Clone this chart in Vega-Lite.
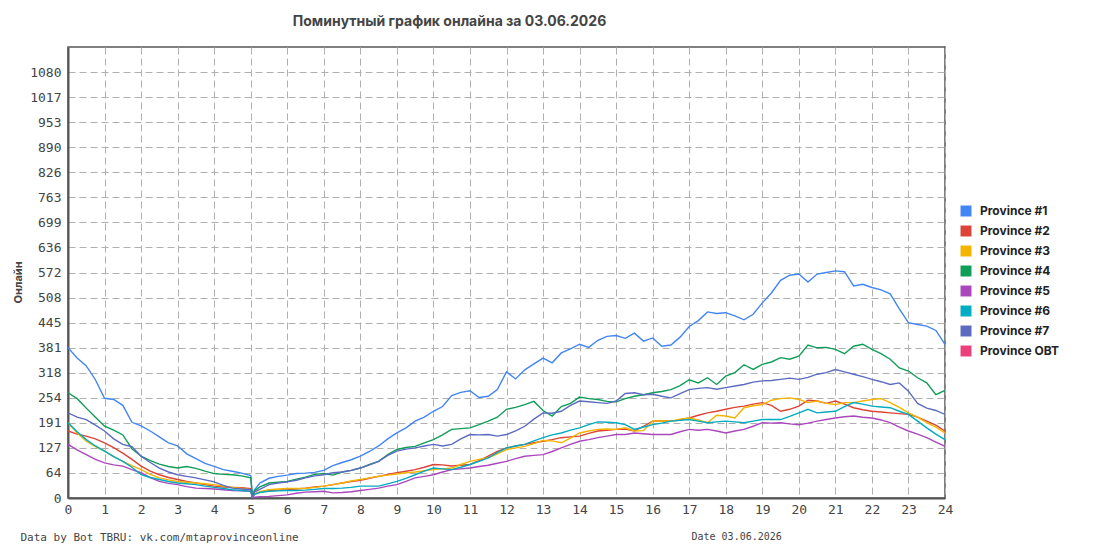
{
  "$schema": "https://vega.github.io/schema/vega-lite/v6.json",
  "width": 877,
  "height": 451,
  "autosize": {"type": "none"},
  "padding": {"left": 68, "top": 47, "right": 150, "bottom": 52},
  "background": "white",
  "title": {
    "text": "Поминутный график онлайна за 03.06.2026",
    "font": "Inter",
    "fontSize": 14,
    "fontWeight": "bold",
    "color": "#444",
    "anchor": "middle",
    "dx": -57,
    "offset": 18
  },
  "config": {
    "view": {"stroke": "#555", "strokeWidth": 1.5}
  },
  "layer": [
    {
      "data": {"values": [
{"t":0,"p":"Province #1","v":381},{"t":0.25,"p":"Province #1","v":355},{"t":0.5,"p":"Province #1","v":335},{"t":0.75,"p":"Province #1","v":300},{"t":1,"p":"Province #1","v":253},{"t":1.25,"p":"Province #1","v":250},{"t":1.5,"p":"Province #1","v":235},{"t":1.75,"p":"Province #1","v":192},{"t":2,"p":"Province #1","v":183},{"t":2.25,"p":"Province #1","v":170},{"t":2.5,"p":"Province #1","v":155},{"t":2.75,"p":"Province #1","v":140},{"t":3,"p":"Province #1","v":132},{"t":3.25,"p":"Province #1","v":112},{"t":3.5,"p":"Province #1","v":100},{"t":3.75,"p":"Province #1","v":88},{"t":4,"p":"Province #1","v":80},{"t":4.25,"p":"Province #1","v":72},{"t":4.5,"p":"Province #1","v":68},{"t":4.75,"p":"Province #1","v":63},{"t":5,"p":"Province #1","v":57},{"t":5.05,"p":"Province #1","v":3},{"t":5.1,"p":"Province #1","v":20},{"t":5.25,"p":"Province #1","v":38},{"t":5.5,"p":"Province #1","v":50},{"t":5.75,"p":"Province #1","v":55},{"t":6,"p":"Province #1","v":58},{"t":6.25,"p":"Province #1","v":62},{"t":6.5,"p":"Province #1","v":63},{"t":6.75,"p":"Province #1","v":65},{"t":7,"p":"Province #1","v":70},{"t":7.25,"p":"Province #1","v":82},{"t":7.5,"p":"Province #1","v":90},{"t":7.75,"p":"Province #1","v":97},{"t":8,"p":"Province #1","v":106},{"t":8.25,"p":"Province #1","v":118},{"t":8.5,"p":"Province #1","v":132},{"t":8.75,"p":"Province #1","v":150},{"t":9,"p":"Province #1","v":165},{"t":9.25,"p":"Province #1","v":178},{"t":9.5,"p":"Province #1","v":195},{"t":9.75,"p":"Province #1","v":205},{"t":10,"p":"Province #1","v":220},{"t":10.25,"p":"Province #1","v":232},{"t":10.5,"p":"Province #1","v":260},{"t":10.75,"p":"Province #1","v":268},{"t":11,"p":"Province #1","v":272},{"t":11.25,"p":"Province #1","v":255},{"t":11.5,"p":"Province #1","v":258},{"t":11.75,"p":"Province #1","v":275},{"t":12,"p":"Province #1","v":320},{"t":12.25,"p":"Province #1","v":302},{"t":12.5,"p":"Province #1","v":325},{"t":12.75,"p":"Province #1","v":340},{"t":13,"p":"Province #1","v":355},{"t":13.25,"p":"Province #1","v":343},{"t":13.5,"p":"Province #1","v":368},{"t":13.75,"p":"Province #1","v":378},{"t":14,"p":"Province #1","v":390},{"t":14.25,"p":"Province #1","v":382},{"t":14.5,"p":"Province #1","v":400},{"t":14.75,"p":"Province #1","v":410},{"t":15,"p":"Province #1","v":412},{"t":15.25,"p":"Province #1","v":405},{"t":15.5,"p":"Province #1","v":418},{"t":15.75,"p":"Province #1","v":398},{"t":16,"p":"Province #1","v":406},{"t":16.25,"p":"Province #1","v":385},{"t":16.5,"p":"Province #1","v":388},{"t":16.75,"p":"Province #1","v":408},{"t":17,"p":"Province #1","v":435},{"t":17.25,"p":"Province #1","v":450},{"t":17.5,"p":"Province #1","v":472},{"t":17.75,"p":"Province #1","v":468},{"t":18,"p":"Province #1","v":470},{"t":18.25,"p":"Province #1","v":462},{"t":18.5,"p":"Province #1","v":452},{"t":18.75,"p":"Province #1","v":466},{"t":19,"p":"Province #1","v":495},{"t":19.25,"p":"Province #1","v":520},{"t":19.5,"p":"Province #1","v":552},{"t":19.75,"p":"Province #1","v":565},{"t":20,"p":"Province #1","v":568},{"t":20.25,"p":"Province #1","v":548},{"t":20.5,"p":"Province #1","v":568},{"t":20.75,"p":"Province #1","v":572},{"t":21,"p":"Province #1","v":576},{"t":21.25,"p":"Province #1","v":574},{"t":21.5,"p":"Province #1","v":538},{"t":21.75,"p":"Province #1","v":542},{"t":22,"p":"Province #1","v":534},{"t":22.25,"p":"Province #1","v":528},{"t":22.5,"p":"Province #1","v":518},{"t":22.75,"p":"Province #1","v":480},{"t":23,"p":"Province #1","v":445},{"t":23.25,"p":"Province #1","v":440},{"t":23.5,"p":"Province #1","v":436},{"t":23.75,"p":"Province #1","v":425},{"t":24,"p":"Province #1","v":390},
{"t":0,"p":"Province #2","v":170},{"t":0.25,"p":"Province #2","v":162},{"t":0.5,"p":"Province #2","v":157},{"t":0.75,"p":"Province #2","v":150},{"t":1,"p":"Province #2","v":140},{"t":1.25,"p":"Province #2","v":128},{"t":1.5,"p":"Province #2","v":114},{"t":1.75,"p":"Province #2","v":98},{"t":2,"p":"Province #2","v":81},{"t":2.25,"p":"Province #2","v":68},{"t":2.5,"p":"Province #2","v":59},{"t":2.75,"p":"Province #2","v":52},{"t":3,"p":"Province #2","v":47},{"t":3.25,"p":"Province #2","v":42},{"t":3.5,"p":"Province #2","v":38},{"t":3.75,"p":"Province #2","v":34},{"t":4,"p":"Province #2","v":30},{"t":4.25,"p":"Province #2","v":28},{"t":4.5,"p":"Province #2","v":27},{"t":4.75,"p":"Province #2","v":26},{"t":5,"p":"Province #2","v":24},{"t":5.05,"p":"Province #2","v":1},{"t":5.1,"p":"Province #2","v":10},{"t":5.25,"p":"Province #2","v":15},{"t":5.5,"p":"Province #2","v":19},{"t":5.75,"p":"Province #2","v":20},{"t":6,"p":"Province #2","v":21},{"t":6.25,"p":"Province #2","v":23},{"t":6.5,"p":"Province #2","v":25},{"t":6.75,"p":"Province #2","v":28},{"t":7,"p":"Province #2","v":30},{"t":7.25,"p":"Province #2","v":34},{"t":7.5,"p":"Province #2","v":38},{"t":7.75,"p":"Province #2","v":42},{"t":8,"p":"Province #2","v":45},{"t":8.25,"p":"Province #2","v":50},{"t":8.5,"p":"Province #2","v":55},{"t":8.75,"p":"Province #2","v":60},{"t":9,"p":"Province #2","v":64},{"t":9.25,"p":"Province #2","v":68},{"t":9.5,"p":"Province #2","v":72},{"t":9.75,"p":"Province #2","v":78},{"t":10,"p":"Province #2","v":85},{"t":10.25,"p":"Province #2","v":84},{"t":10.5,"p":"Province #2","v":81},{"t":10.75,"p":"Province #2","v":83},{"t":11,"p":"Province #2","v":85},{"t":11.25,"p":"Province #2","v":95},{"t":11.5,"p":"Province #2","v":106},{"t":11.75,"p":"Province #2","v":118},{"t":12,"p":"Province #2","v":127},{"t":12.25,"p":"Province #2","v":132},{"t":12.5,"p":"Province #2","v":136},{"t":12.75,"p":"Province #2","v":140},{"t":13,"p":"Province #2","v":144},{"t":13.25,"p":"Province #2","v":148},{"t":13.5,"p":"Province #2","v":153},{"t":13.75,"p":"Province #2","v":155},{"t":14,"p":"Province #2","v":157},{"t":14.25,"p":"Province #2","v":164},{"t":14.5,"p":"Province #2","v":170},{"t":14.75,"p":"Province #2","v":172},{"t":15,"p":"Province #2","v":174},{"t":15.25,"p":"Province #2","v":175},{"t":15.5,"p":"Province #2","v":170},{"t":15.75,"p":"Province #2","v":182},{"t":16,"p":"Province #2","v":195},{"t":16.25,"p":"Province #2","v":196},{"t":16.5,"p":"Province #2","v":195},{"t":16.75,"p":"Province #2","v":198},{"t":17,"p":"Province #2","v":203},{"t":17.25,"p":"Province #2","v":210},{"t":17.5,"p":"Province #2","v":216},{"t":17.75,"p":"Province #2","v":220},{"t":18,"p":"Province #2","v":225},{"t":18.25,"p":"Province #2","v":230},{"t":18.5,"p":"Province #2","v":233},{"t":18.75,"p":"Province #2","v":238},{"t":19,"p":"Province #2","v":242},{"t":19.25,"p":"Province #2","v":235},{"t":19.5,"p":"Province #2","v":220},{"t":19.75,"p":"Province #2","v":225},{"t":20,"p":"Province #2","v":233},{"t":20.25,"p":"Province #2","v":248},{"t":20.5,"p":"Province #2","v":246},{"t":20.75,"p":"Province #2","v":240},{"t":21,"p":"Province #2","v":246},{"t":21.25,"p":"Province #2","v":238},{"t":21.5,"p":"Province #2","v":229},{"t":21.75,"p":"Province #2","v":224},{"t":22,"p":"Province #2","v":220},{"t":22.25,"p":"Province #2","v":218},{"t":22.5,"p":"Province #2","v":216},{"t":22.75,"p":"Province #2","v":214},{"t":23,"p":"Province #2","v":212},{"t":23.25,"p":"Province #2","v":205},{"t":23.5,"p":"Province #2","v":195},{"t":23.75,"p":"Province #2","v":185},{"t":24,"p":"Province #2","v":170},
{"t":0,"p":"Province #3","v":191},{"t":0.25,"p":"Province #3","v":165},{"t":0.5,"p":"Province #3","v":144},{"t":0.75,"p":"Province #3","v":130},{"t":1,"p":"Province #3","v":119},{"t":1.25,"p":"Province #3","v":105},{"t":1.5,"p":"Province #3","v":93},{"t":1.75,"p":"Province #3","v":82},{"t":2,"p":"Province #3","v":72},{"t":2.25,"p":"Province #3","v":60},{"t":2.5,"p":"Province #3","v":51},{"t":2.75,"p":"Province #3","v":46},{"t":3,"p":"Province #3","v":42},{"t":3.25,"p":"Province #3","v":40},{"t":3.5,"p":"Province #3","v":38},{"t":3.75,"p":"Province #3","v":36},{"t":4,"p":"Province #3","v":34},{"t":4.25,"p":"Province #3","v":30},{"t":4.5,"p":"Province #3","v":27},{"t":4.75,"p":"Province #3","v":24},{"t":5,"p":"Province #3","v":21},{"t":5.05,"p":"Province #3","v":1},{"t":5.1,"p":"Province #3","v":10},{"t":5.25,"p":"Province #3","v":16},{"t":5.5,"p":"Province #3","v":21},{"t":5.75,"p":"Province #3","v":23},{"t":6,"p":"Province #3","v":24},{"t":6.25,"p":"Province #3","v":24},{"t":6.5,"p":"Province #3","v":24},{"t":6.75,"p":"Province #3","v":27},{"t":7,"p":"Province #3","v":30},{"t":7.25,"p":"Province #3","v":34},{"t":7.5,"p":"Province #3","v":38},{"t":7.75,"p":"Province #3","v":43},{"t":8,"p":"Province #3","v":47},{"t":8.25,"p":"Province #3","v":51},{"t":8.5,"p":"Province #3","v":55},{"t":8.75,"p":"Province #3","v":58},{"t":9,"p":"Province #3","v":61},{"t":9.25,"p":"Province #3","v":64},{"t":9.5,"p":"Province #3","v":66},{"t":9.75,"p":"Province #3","v":69},{"t":10,"p":"Province #3","v":72},{"t":10.25,"p":"Province #3","v":74},{"t":10.5,"p":"Province #3","v":76},{"t":10.75,"p":"Province #3","v":85},{"t":11,"p":"Province #3","v":93},{"t":11.25,"p":"Province #3","v":98},{"t":11.5,"p":"Province #3","v":102},{"t":11.75,"p":"Province #3","v":112},{"t":12,"p":"Province #3","v":123},{"t":12.25,"p":"Province #3","v":127},{"t":12.5,"p":"Province #3","v":131},{"t":12.75,"p":"Province #3","v":138},{"t":13,"p":"Province #3","v":146},{"t":13.25,"p":"Province #3","v":145},{"t":13.5,"p":"Province #3","v":140},{"t":13.75,"p":"Province #3","v":152},{"t":14,"p":"Province #3","v":165},{"t":14.25,"p":"Province #3","v":170},{"t":14.5,"p":"Province #3","v":174},{"t":14.75,"p":"Province #3","v":175},{"t":15,"p":"Province #3","v":174},{"t":15.25,"p":"Province #3","v":178},{"t":15.5,"p":"Province #3","v":170},{"t":15.75,"p":"Province #3","v":171},{"t":16,"p":"Province #3","v":195},{"t":16.25,"p":"Province #3","v":196},{"t":16.5,"p":"Province #3","v":195},{"t":16.75,"p":"Province #3","v":200},{"t":17,"p":"Province #3","v":203},{"t":17.25,"p":"Province #3","v":198},{"t":17.5,"p":"Province #3","v":191},{"t":17.75,"p":"Province #3","v":210},{"t":18,"p":"Province #3","v":208},{"t":18.25,"p":"Province #3","v":203},{"t":18.5,"p":"Province #3","v":229},{"t":18.75,"p":"Province #3","v":234},{"t":19,"p":"Province #3","v":237},{"t":19.25,"p":"Province #3","v":248},{"t":19.5,"p":"Province #3","v":252},{"t":19.75,"p":"Province #3","v":254},{"t":20,"p":"Province #3","v":250},{"t":20.25,"p":"Province #3","v":242},{"t":20.5,"p":"Province #3","v":246},{"t":20.75,"p":"Province #3","v":240},{"t":21,"p":"Province #3","v":237},{"t":21.25,"p":"Province #3","v":242},{"t":21.5,"p":"Province #3","v":242},{"t":21.75,"p":"Province #3","v":246},{"t":22,"p":"Province #3","v":250},{"t":22.25,"p":"Province #3","v":252},{"t":22.5,"p":"Province #3","v":242},{"t":22.75,"p":"Province #3","v":230},{"t":23,"p":"Province #3","v":216},{"t":23.25,"p":"Province #3","v":205},{"t":23.5,"p":"Province #3","v":191},{"t":23.75,"p":"Province #3","v":180},{"t":24,"p":"Province #3","v":165},
{"t":0,"p":"Province #4","v":267},{"t":0.25,"p":"Province #4","v":252},{"t":0.5,"p":"Province #4","v":228},{"t":0.75,"p":"Province #4","v":205},{"t":1,"p":"Province #4","v":182},{"t":1.25,"p":"Province #4","v":172},{"t":1.5,"p":"Province #4","v":160},{"t":1.75,"p":"Province #4","v":125},{"t":2,"p":"Province #4","v":106},{"t":2.25,"p":"Province #4","v":95},{"t":2.5,"p":"Province #4","v":86},{"t":2.75,"p":"Province #4","v":80},{"t":3,"p":"Province #4","v":76},{"t":3.25,"p":"Province #4","v":80},{"t":3.5,"p":"Province #4","v":75},{"t":3.75,"p":"Province #4","v":68},{"t":4,"p":"Province #4","v":62},{"t":4.25,"p":"Province #4","v":60},{"t":4.5,"p":"Province #4","v":59},{"t":4.75,"p":"Province #4","v":56},{"t":5,"p":"Province #4","v":51},{"t":5.05,"p":"Province #4","v":2},{"t":5.1,"p":"Province #4","v":18},{"t":5.25,"p":"Province #4","v":28},{"t":5.5,"p":"Province #4","v":38},{"t":5.75,"p":"Province #4","v":40},{"t":6,"p":"Province #4","v":42},{"t":6.25,"p":"Province #4","v":48},{"t":6.5,"p":"Province #4","v":53},{"t":6.75,"p":"Province #4","v":60},{"t":7,"p":"Province #4","v":62},{"t":7.25,"p":"Province #4","v":58},{"t":7.5,"p":"Province #4","v":66},{"t":7.75,"p":"Province #4","v":70},{"t":8,"p":"Province #4","v":76},{"t":8.25,"p":"Province #4","v":85},{"t":8.5,"p":"Province #4","v":93},{"t":8.75,"p":"Province #4","v":110},{"t":9,"p":"Province #4","v":123},{"t":9.25,"p":"Province #4","v":128},{"t":9.5,"p":"Province #4","v":131},{"t":9.75,"p":"Province #4","v":140},{"t":10,"p":"Province #4","v":148},{"t":10.25,"p":"Province #4","v":160},{"t":10.5,"p":"Province #4","v":174},{"t":10.75,"p":"Province #4","v":176},{"t":11,"p":"Province #4","v":178},{"t":11.25,"p":"Province #4","v":186},{"t":11.5,"p":"Province #4","v":195},{"t":11.75,"p":"Province #4","v":205},{"t":12,"p":"Province #4","v":225},{"t":12.25,"p":"Province #4","v":230},{"t":12.5,"p":"Province #4","v":237},{"t":12.75,"p":"Province #4","v":245},{"t":13,"p":"Province #4","v":222},{"t":13.25,"p":"Province #4","v":208},{"t":13.5,"p":"Province #4","v":232},{"t":13.75,"p":"Province #4","v":240},{"t":14,"p":"Province #4","v":256},{"t":14.25,"p":"Province #4","v":252},{"t":14.5,"p":"Province #4","v":250},{"t":14.75,"p":"Province #4","v":245},{"t":15,"p":"Province #4","v":244},{"t":15.25,"p":"Province #4","v":252},{"t":15.5,"p":"Province #4","v":258},{"t":15.75,"p":"Province #4","v":262},{"t":16,"p":"Province #4","v":267},{"t":16.25,"p":"Province #4","v":270},{"t":16.5,"p":"Province #4","v":275},{"t":16.75,"p":"Province #4","v":285},{"t":17,"p":"Province #4","v":300},{"t":17.25,"p":"Province #4","v":292},{"t":17.5,"p":"Province #4","v":305},{"t":17.75,"p":"Province #4","v":288},{"t":18,"p":"Province #4","v":309},{"t":18.25,"p":"Province #4","v":318},{"t":18.5,"p":"Province #4","v":338},{"t":18.75,"p":"Province #4","v":326},{"t":19,"p":"Province #4","v":339},{"t":19.25,"p":"Province #4","v":345},{"t":19.5,"p":"Province #4","v":356},{"t":19.75,"p":"Province #4","v":352},{"t":20,"p":"Province #4","v":360},{"t":20.25,"p":"Province #4","v":388},{"t":20.5,"p":"Province #4","v":381},{"t":20.75,"p":"Province #4","v":382},{"t":21,"p":"Province #4","v":377},{"t":21.25,"p":"Province #4","v":366},{"t":21.5,"p":"Province #4","v":385},{"t":21.75,"p":"Province #4","v":390},{"t":22,"p":"Province #4","v":377},{"t":22.25,"p":"Province #4","v":366},{"t":22.5,"p":"Province #4","v":352},{"t":22.75,"p":"Province #4","v":330},{"t":23,"p":"Province #4","v":322},{"t":23.25,"p":"Province #4","v":305},{"t":23.5,"p":"Province #4","v":292},{"t":23.75,"p":"Province #4","v":262},{"t":24,"p":"Province #4","v":273},
{"t":0,"p":"Province #5","v":136},{"t":0.25,"p":"Province #5","v":122},{"t":0.5,"p":"Province #5","v":110},{"t":0.75,"p":"Province #5","v":98},{"t":1,"p":"Province #5","v":89},{"t":1.25,"p":"Province #5","v":84},{"t":1.5,"p":"Province #5","v":81},{"t":1.75,"p":"Province #5","v":72},{"t":2,"p":"Province #5","v":64},{"t":2.25,"p":"Province #5","v":52},{"t":2.5,"p":"Province #5","v":42},{"t":2.75,"p":"Province #5","v":37},{"t":3,"p":"Province #5","v":34},{"t":3.25,"p":"Province #5","v":29},{"t":3.5,"p":"Province #5","v":25},{"t":3.75,"p":"Province #5","v":24},{"t":4,"p":"Province #5","v":23},{"t":4.25,"p":"Province #5","v":21},{"t":4.5,"p":"Province #5","v":19},{"t":4.75,"p":"Province #5","v":18},{"t":5,"p":"Province #5","v":17},{"t":5.05,"p":"Province #5","v":1},{"t":5.1,"p":"Province #5","v":2},{"t":5.25,"p":"Province #5","v":3},{"t":5.5,"p":"Province #5","v":4},{"t":5.75,"p":"Province #5","v":6},{"t":6,"p":"Province #5","v":8},{"t":6.25,"p":"Province #5","v":12},{"t":6.5,"p":"Province #5","v":15},{"t":6.75,"p":"Province #5","v":16},{"t":7,"p":"Province #5","v":17},{"t":7.25,"p":"Province #5","v":13},{"t":7.5,"p":"Province #5","v":14},{"t":7.75,"p":"Province #5","v":16},{"t":8,"p":"Province #5","v":19},{"t":8.25,"p":"Province #5","v":22},{"t":8.5,"p":"Province #5","v":25},{"t":8.75,"p":"Province #5","v":30},{"t":9,"p":"Province #5","v":34},{"t":9.25,"p":"Province #5","v":42},{"t":9.5,"p":"Province #5","v":51},{"t":9.75,"p":"Province #5","v":55},{"t":10,"p":"Province #5","v":59},{"t":10.25,"p":"Province #5","v":66},{"t":10.5,"p":"Province #5","v":72},{"t":10.75,"p":"Province #5","v":74},{"t":11,"p":"Province #5","v":76},{"t":11.25,"p":"Province #5","v":80},{"t":11.5,"p":"Province #5","v":83},{"t":11.75,"p":"Province #5","v":88},{"t":12,"p":"Province #5","v":93},{"t":12.25,"p":"Province #5","v":100},{"t":12.5,"p":"Province #5","v":106},{"t":12.75,"p":"Province #5","v":108},{"t":13,"p":"Province #5","v":110},{"t":13.25,"p":"Province #5","v":118},{"t":13.5,"p":"Province #5","v":127},{"t":13.75,"p":"Province #5","v":136},{"t":14,"p":"Province #5","v":144},{"t":14.25,"p":"Province #5","v":148},{"t":14.5,"p":"Province #5","v":153},{"t":14.75,"p":"Province #5","v":157},{"t":15,"p":"Province #5","v":161},{"t":15.25,"p":"Province #5","v":161},{"t":15.5,"p":"Province #5","v":165},{"t":15.75,"p":"Province #5","v":163},{"t":16,"p":"Province #5","v":161},{"t":16.25,"p":"Province #5","v":161},{"t":16.5,"p":"Province #5","v":161},{"t":16.75,"p":"Province #5","v":168},{"t":17,"p":"Province #5","v":174},{"t":17.25,"p":"Province #5","v":172},{"t":17.5,"p":"Province #5","v":174},{"t":17.75,"p":"Province #5","v":170},{"t":18,"p":"Province #5","v":165},{"t":18.25,"p":"Province #5","v":170},{"t":18.5,"p":"Province #5","v":174},{"t":18.75,"p":"Province #5","v":182},{"t":19,"p":"Province #5","v":191},{"t":19.25,"p":"Province #5","v":190},{"t":19.5,"p":"Province #5","v":191},{"t":19.75,"p":"Province #5","v":188},{"t":20,"p":"Province #5","v":186},{"t":20.25,"p":"Province #5","v":190},{"t":20.5,"p":"Province #5","v":195},{"t":20.75,"p":"Province #5","v":199},{"t":21,"p":"Province #5","v":203},{"t":21.25,"p":"Province #5","v":206},{"t":21.5,"p":"Province #5","v":208},{"t":21.75,"p":"Province #5","v":205},{"t":22,"p":"Province #5","v":203},{"t":22.25,"p":"Province #5","v":198},{"t":22.5,"p":"Province #5","v":191},{"t":22.75,"p":"Province #5","v":180},{"t":23,"p":"Province #5","v":170},{"t":23.25,"p":"Province #5","v":162},{"t":23.5,"p":"Province #5","v":153},{"t":23.75,"p":"Province #5","v":142},{"t":24,"p":"Province #5","v":131},
{"t":0,"p":"Province #6","v":191},{"t":0.25,"p":"Province #6","v":168},{"t":0.5,"p":"Province #6","v":148},{"t":0.75,"p":"Province #6","v":132},{"t":1,"p":"Province #6","v":119},{"t":1.25,"p":"Province #6","v":105},{"t":1.5,"p":"Province #6","v":93},{"t":1.75,"p":"Province #6","v":78},{"t":2,"p":"Province #6","v":59},{"t":2.25,"p":"Province #6","v":52},{"t":2.5,"p":"Province #6","v":47},{"t":2.75,"p":"Province #6","v":42},{"t":3,"p":"Province #6","v":38},{"t":3.25,"p":"Province #6","v":36},{"t":3.5,"p":"Province #6","v":34},{"t":3.75,"p":"Province #6","v":30},{"t":4,"p":"Province #6","v":27},{"t":4.25,"p":"Province #6","v":24},{"t":4.5,"p":"Province #6","v":21},{"t":4.75,"p":"Province #6","v":19},{"t":5,"p":"Province #6","v":17},{"t":5.05,"p":"Province #6","v":1},{"t":5.1,"p":"Province #6","v":9},{"t":5.25,"p":"Province #6","v":14},{"t":5.5,"p":"Province #6","v":17},{"t":5.75,"p":"Province #6","v":18},{"t":6,"p":"Province #6","v":19},{"t":6.25,"p":"Province #6","v":19},{"t":6.5,"p":"Province #6","v":20},{"t":6.75,"p":"Province #6","v":22},{"t":7,"p":"Province #6","v":24},{"t":7.25,"p":"Province #6","v":24},{"t":7.5,"p":"Province #6","v":25},{"t":7.75,"p":"Province #6","v":27},{"t":8,"p":"Province #6","v":30},{"t":8.25,"p":"Province #6","v":30},{"t":8.5,"p":"Province #6","v":30},{"t":8.75,"p":"Province #6","v":36},{"t":9,"p":"Province #6","v":42},{"t":9.25,"p":"Province #6","v":50},{"t":9.5,"p":"Province #6","v":59},{"t":9.75,"p":"Province #6","v":68},{"t":10,"p":"Province #6","v":76},{"t":10.25,"p":"Province #6","v":74},{"t":10.5,"p":"Province #6","v":72},{"t":10.75,"p":"Province #6","v":78},{"t":11,"p":"Province #6","v":85},{"t":11.25,"p":"Province #6","v":93},{"t":11.5,"p":"Province #6","v":102},{"t":11.75,"p":"Province #6","v":115},{"t":12,"p":"Province #6","v":127},{"t":12.25,"p":"Province #6","v":132},{"t":12.5,"p":"Province #6","v":136},{"t":12.75,"p":"Province #6","v":145},{"t":13,"p":"Province #6","v":153},{"t":13.25,"p":"Province #6","v":160},{"t":13.5,"p":"Province #6","v":165},{"t":13.75,"p":"Province #6","v":172},{"t":14,"p":"Province #6","v":178},{"t":14.25,"p":"Province #6","v":186},{"t":14.5,"p":"Province #6","v":193},{"t":14.75,"p":"Province #6","v":192},{"t":15,"p":"Province #6","v":191},{"t":15.25,"p":"Province #6","v":186},{"t":15.5,"p":"Province #6","v":174},{"t":15.75,"p":"Province #6","v":180},{"t":16,"p":"Province #6","v":186},{"t":16.25,"p":"Province #6","v":190},{"t":16.5,"p":"Province #6","v":195},{"t":16.75,"p":"Province #6","v":197},{"t":17,"p":"Province #6","v":199},{"t":17.25,"p":"Province #6","v":195},{"t":17.5,"p":"Province #6","v":191},{"t":17.75,"p":"Province #6","v":193},{"t":18,"p":"Province #6","v":195},{"t":18.25,"p":"Province #6","v":193},{"t":18.5,"p":"Province #6","v":191},{"t":18.75,"p":"Province #6","v":195},{"t":19,"p":"Province #6","v":199},{"t":19.25,"p":"Province #6","v":199},{"t":19.5,"p":"Province #6","v":199},{"t":19.75,"p":"Province #6","v":207},{"t":20,"p":"Province #6","v":216},{"t":20.25,"p":"Province #6","v":225},{"t":20.5,"p":"Province #6","v":216},{"t":20.75,"p":"Province #6","v":218},{"t":21,"p":"Province #6","v":220},{"t":21.25,"p":"Province #6","v":232},{"t":21.5,"p":"Province #6","v":242},{"t":21.75,"p":"Province #6","v":238},{"t":22,"p":"Province #6","v":233},{"t":22.25,"p":"Province #6","v":231},{"t":22.5,"p":"Province #6","v":229},{"t":22.75,"p":"Province #6","v":220},{"t":23,"p":"Province #6","v":212},{"t":23.25,"p":"Province #6","v":195},{"t":23.5,"p":"Province #6","v":178},{"t":23.75,"p":"Province #6","v":162},{"t":24,"p":"Province #6","v":148},
{"t":0,"p":"Province #7","v":216},{"t":0.25,"p":"Province #7","v":205},{"t":0.5,"p":"Province #7","v":199},{"t":0.75,"p":"Province #7","v":185},{"t":1,"p":"Province #7","v":170},{"t":1.25,"p":"Province #7","v":150},{"t":1.5,"p":"Province #7","v":136},{"t":1.75,"p":"Province #7","v":130},{"t":2,"p":"Province #7","v":106},{"t":2.25,"p":"Province #7","v":90},{"t":2.5,"p":"Province #7","v":76},{"t":2.75,"p":"Province #7","v":66},{"t":3,"p":"Province #7","v":59},{"t":3.25,"p":"Province #7","v":55},{"t":3.5,"p":"Province #7","v":51},{"t":3.75,"p":"Province #7","v":46},{"t":4,"p":"Province #7","v":41},{"t":4.25,"p":"Province #7","v":32},{"t":4.5,"p":"Province #7","v":25},{"t":4.75,"p":"Province #7","v":23},{"t":5,"p":"Province #7","v":21},{"t":5.05,"p":"Province #7","v":2},{"t":5.1,"p":"Province #7","v":15},{"t":5.25,"p":"Province #7","v":22},{"t":5.5,"p":"Province #7","v":34},{"t":5.75,"p":"Province #7","v":38},{"t":6,"p":"Province #7","v":41},{"t":6.25,"p":"Province #7","v":45},{"t":6.5,"p":"Province #7","v":51},{"t":6.75,"p":"Province #7","v":56},{"t":7,"p":"Province #7","v":59},{"t":7.25,"p":"Province #7","v":64},{"t":7.5,"p":"Province #7","v":66},{"t":7.75,"p":"Province #7","v":70},{"t":8,"p":"Province #7","v":76},{"t":8.25,"p":"Province #7","v":84},{"t":8.5,"p":"Province #7","v":93},{"t":8.75,"p":"Province #7","v":108},{"t":9,"p":"Province #7","v":119},{"t":9.25,"p":"Province #7","v":124},{"t":9.5,"p":"Province #7","v":127},{"t":9.75,"p":"Province #7","v":132},{"t":10,"p":"Province #7","v":136},{"t":10.25,"p":"Province #7","v":132},{"t":10.5,"p":"Province #7","v":136},{"t":10.75,"p":"Province #7","v":150},{"t":11,"p":"Province #7","v":161},{"t":11.25,"p":"Province #7","v":160},{"t":11.5,"p":"Province #7","v":161},{"t":11.75,"p":"Province #7","v":157},{"t":12,"p":"Province #7","v":161},{"t":12.25,"p":"Province #7","v":170},{"t":12.5,"p":"Province #7","v":182},{"t":12.75,"p":"Province #7","v":200},{"t":13,"p":"Province #7","v":216},{"t":13.25,"p":"Province #7","v":215},{"t":13.5,"p":"Province #7","v":220},{"t":13.75,"p":"Province #7","v":235},{"t":14,"p":"Province #7","v":246},{"t":14.25,"p":"Province #7","v":244},{"t":14.5,"p":"Province #7","v":242},{"t":14.75,"p":"Province #7","v":240},{"t":15,"p":"Province #7","v":246},{"t":15.25,"p":"Province #7","v":265},{"t":15.5,"p":"Province #7","v":267},{"t":15.75,"p":"Province #7","v":262},{"t":16,"p":"Province #7","v":263},{"t":16.25,"p":"Province #7","v":258},{"t":16.5,"p":"Province #7","v":254},{"t":16.75,"p":"Province #7","v":265},{"t":17,"p":"Province #7","v":275},{"t":17.25,"p":"Province #7","v":278},{"t":17.5,"p":"Province #7","v":280},{"t":17.75,"p":"Province #7","v":276},{"t":18,"p":"Province #7","v":280},{"t":18.25,"p":"Province #7","v":284},{"t":18.5,"p":"Province #7","v":288},{"t":18.75,"p":"Province #7","v":294},{"t":19,"p":"Province #7","v":297},{"t":19.25,"p":"Province #7","v":298},{"t":19.5,"p":"Province #7","v":301},{"t":19.75,"p":"Province #7","v":304},{"t":20,"p":"Province #7","v":301},{"t":20.25,"p":"Province #7","v":306},{"t":20.5,"p":"Province #7","v":314},{"t":20.75,"p":"Province #7","v":318},{"t":21,"p":"Province #7","v":326},{"t":21.25,"p":"Province #7","v":320},{"t":21.5,"p":"Province #7","v":314},{"t":21.75,"p":"Province #7","v":308},{"t":22,"p":"Province #7","v":301},{"t":22.25,"p":"Province #7","v":295},{"t":22.5,"p":"Province #7","v":288},{"t":22.75,"p":"Province #7","v":292},{"t":23,"p":"Province #7","v":271},{"t":23.25,"p":"Province #7","v":240},{"t":23.5,"p":"Province #7","v":228},{"t":23.75,"p":"Province #7","v":222},{"t":24,"p":"Province #7","v":212}
      ]},
      "mark": {"type": "line", "strokeWidth": 1.4, "clip": true},
      "encoding": {
        "x": {
          "field": "t",
          "type": "quantitative",
          "scale": {"domain": [0, 24], "nice": false},
          "axis": {
            "orient": "bottom",
            "values": [0,1,2,3,4,5,6,7,8,9,10,11,12,13,14,15,16,17,18,19,20,21,22,23,24],
            "format": "d",
            "labelFont": "DejaVu Sans Mono",
            "labelFontSize": 13,
            "labelColor": "#444",
            "labelPadding": 5,
            "labelFlush": false,
            "labelOverlap": false,
            "ticks": false,
            "domainColor": "#555",
            "domainWidth": 2,
            "gridColor": "#b0b0b0",
            "gridDash": [7, 4],
            "title": "Date 03.06.2026",
            "titleFont": "DejaVu Sans Mono",
            "titleFontSize": 10,
            "titleFontWeight": "normal",
            "titleColor": "#444",
            "titleX": 623,
            "titleY": 33,
            "titleAlign": "left",
            "titleBaseline": "top"
          }
        },
        "y": {
          "field": "v",
          "type": "quantitative",
          "scale": {"domain": [0, 1144], "nice": false},
          "axis": {
            "values": [0,64,127,191,254,318,381,445,508,572,636,699,763,826,890,953,1017,1080],
            "format": "d",
            "labelFont": "DejaVu Sans Mono",
            "labelFontSize": 13,
            "labelColor": "#444",
            "labelPadding": 7,
            "ticks": false,
            "domainColor": "#555",
            "domainWidth": 2,
            "gridColor": "#b0b0b0",
            "gridDash": [7, 4],
            "title": "Онлайн",
            "titleFont": "Inter",
            "titleFontSize": 11,
            "titleFontWeight": "bold",
            "titleColor": "#444",
            "titlePadding": 6,
            "titleY": 235
          }
        },
        "color": {
          "field": "p",
          "type": "nominal",
          "scale": {
            "domain": ["Province #1","Province #2","Province #3","Province #4","Province #5","Province #6","Province #7","Province OBT"],
            "range": ["#4285F4","#DB4437","#F4B400","#0F9D58","#AB47BC","#00ACC1","#5C6BC0","#EC407A"]
          },
          "legend": {
            "orient": "none",
            "legendX": 892,
            "legendY": 158,
            "title": null,
            "symbolType": "square",
            "symbolSize": 120,
            "symbolStrokeWidth": 0,
            "labelFont": "Inter",
            "labelFontSize": 12,
            "labelFontWeight": "bold",
            "labelColor": "#222",
            "labelOffset": 8,
            "rowPadding": 8,
            "encode": {
              "symbols": {"update": {"fill": {"scale": "color", "field": "value"}, "fillOpacity": {"value": 1}}}
            }
          }
        }
      }
    },
    {
      "data": {"values": [{"t": 0}]},
      "mark": {"type": "rule", "opacity": 0},
      "encoding": {
        "x": {
          "field": "t",
          "type": "quantitative",
          "scale": {"domain": [0, 24], "nice": false},
          "axis": {
            "orient": "bottom",
            "labels": false,
            "ticks": false,
            "domain": false,
            "grid": false,
            "title": "Data by Bot TBRU: vk.com/mtaprovinceonline",
            "titleFont": "DejaVu Sans Mono",
            "titleFontSize": 11,
            "titleFontWeight": "normal",
            "titleColor": "#444",
            "titleX": -48,
            "titleY": 33,
            "titleAlign": "left",
            "titleBaseline": "top"
          }
        }
      }
    }
  ],
  "resolve": {"scale": {"x": "independent"}, "axis": {"x": "independent"}}
}
